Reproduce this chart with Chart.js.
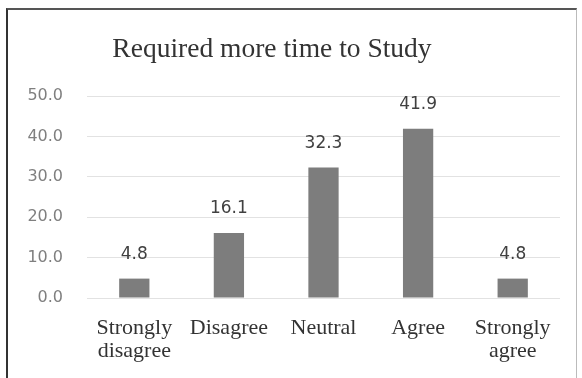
<!DOCTYPE html>
<html>
<head>
<meta charset="utf-8">
<script src="https://cdn.jsdelivr.net/npm/chart.js@4/dist/chart.umd.min.js"></script>
<style>
  html, body { margin: 0; padding: 0; background: #fff; }
  #wrap { position: relative; width: 582px; height: 378px; overflow: hidden; }
  #frame { position: absolute; left: 6px; top: 8px; width: 571px; height: 380px;
           border-left: 2px solid #333; border-top: 2px solid #555; border-right: 1px solid #bbb; box-sizing: border-box; }
  #title { position: absolute; left: 0; width: 544px; top: 31px; text-align: center;
           font-family: "Liberation Serif", "Times New Roman", serif; font-size: 27.5px; color: #333; line-height: 34px; }
  canvas { position: absolute; left: 0; top: 0; }
</style>
</head>
<body>
<div id="wrap">
  <div id="frame"></div>
  <canvas id="c" width="582" height="378"></canvas>
  <div id="title">Required more time to Study</div>
</div>
<script>
const chartTitle = "Required more time to Study";
const categories = [["Strongly", "disagree"], "Disagree", "Neutral", "Agree", ["Strongly", "agree"]];
const percentValues = [4.8, 16.1, 32.3, 41.9, 4.8];
const yTicks = [0, 10, 20, 30, 40, 50];

const valueLabels = {
  id: 'valueLabels',
  afterDatasetsDraw(chart) {
    const ctx = chart.ctx;
    const meta = chart.getDatasetMeta(0);
    ctx.save();
    ctx.font = '17px "DejaVu Sans", sans-serif';
    ctx.fillStyle = '#404040';
    ctx.textAlign = 'center';
    ctx.textBaseline = 'middle';
    meta.data.forEach((bar, i) => {
      ctx.fillText(percentValues[i].toFixed(1), bar.x, bar.y - 24);
    });
    ctx.restore();
  }
};

new Chart(document.getElementById('c'), {
  type: 'bar',
  data: {
    labels: categories,
    datasets: [{
      label: chartTitle,
      data: percentValues,
      backgroundColor: '#7d7d7d',
      borderWidth: 0,
      barPercentage: 0.32,
      categoryPercentage: 1.0
    }]
  },
  options: {
    responsive: false,
    animation: false,
    devicePixelRatio: 1,
    layout: { padding: { top: 96, right: 22, bottom: 0, left: 0 } },
    plugins: {
      legend: { display: false },
      title: { display: false },
      tooltip: { enabled: false }
    },
    scales: {
      x: {
        grid: { display: false, drawTicks: false },
        border: { display: false },
        ticks: {
          color: '#333',
          font: { family: '"Liberation Serif", "Times New Roman", serif', size: 22, lineHeight: 1.05 },
          padding: 19,
          maxRotation: 0,
          autoSkip: false
        },
        afterFit(axis) { axis.height = 80; }
      },
      y: {
        min: 0,
        max: 50,
        afterBuildTicks(axis) { axis.ticks = yTicks.map(v => ({ value: v })); },
        grid: { color: '#e2e2e2', lineWidth: 1, drawTicks: false },
        border: { display: false },
        ticks: {
          color: '#7f7f7f',
          font: { family: '"DejaVu Sans", sans-serif', size: 16 },
          padding: 24,
          callback: v => Number(v).toFixed(1)
        },
        afterFit(axis) { axis.width = 87; }
      }
    }
  },
  plugins: [valueLabels]
});
</script>
</body>
</html>
